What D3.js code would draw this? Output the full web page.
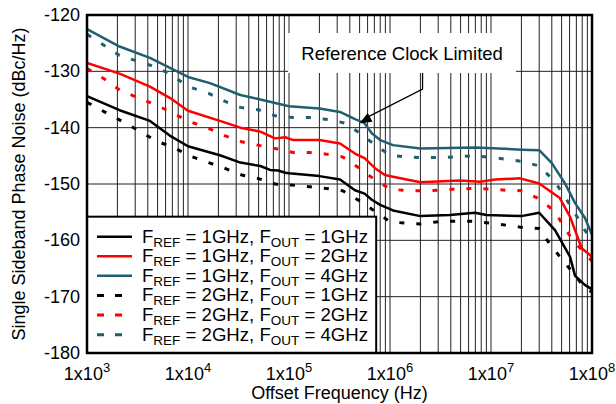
<!DOCTYPE html>
<html><head><meta charset="utf-8">
<script src="https://cdn.jsdelivr.net/npm/d3@7"></script>
<style>body{margin:0;background:#fff}svg{display:block}text{font-family:"Liberation Sans",Arial,sans-serif}</style>
</head><body><svg id="c" width="616" height="404"></svg>
<script>
// ---- data ----
const yTicks = [-120,-130,-140,-150,-160,-170,-180];
const xTickExps = [3,4,5,6,7,8];

const f1_1Freq = [1e3,2.1e3,4.2e3,6.6e3,1e4,2.07e4,3.3e4,5.2e4,6.5e4,7.8e4,9.2e4,1e5,2e5,3.2e5,4.5e5,5.6e5,6.6e5,8e5,1.07e6,2e6,3.9e6,6.95e6,9e6,2e7,3e7,4.3e7,6.05e7,6.8e7,8.5e7,1e8];
const f1_1Val  = [-134.4,-136.9,-138.8,-141.4,-143.3,-144.9,-146.2,-146.8,-147.5,-147.6,-148,-148.1,-148.6,-149.2,-151.1,-151.7,-152.8,-153.7,-154.7,-155.7,-155.5,-155.1,-155.5,-155.7,-155.1,-158.2,-162.9,-166.3,-167.9,-168.7];

const f1_2Freq = [1e3,2.1e3,4.2e3,6.6e3,1e4,2.07e4,3.3e4,5.2e4,7.26e4,9.2e4,1.1e5,2e5,3.2e5,4.5e5,5.6e5,7.1e5,8.9e5,1.07e6,2e6,4.9e6,7.8e6,1.1e7,1.94e7,3e7,4.8e7,6.05e7,6.8e7,7.9e7,1e8];
const f1_2Val  = [-128.5,-130.4,-132.7,-134.7,-137,-138.8,-140,-140.7,-141.9,-141.7,-142.2,-142.2,-142.8,-144.6,-145.4,-147.2,-148.4,-148.7,-149.7,-149.4,-149.6,-149.2,-149,-149.9,-152.5,-155.8,-158.2,-161.4,-162.9];

const f1_4Freq = [1e3,2.1e3,4.2e3,1e4,1.65e4,3.3e4,5.2e4,1e5,2e5,3.2e5,4.5e5,5.6e5,6.6e5,8e5,1.07e6,2e6,7e6,2e7,3e7,4e7,5.4e7,6.8e7,8.5e7,1e8];
const f1_4Val  = [-122.5,-125.6,-127.6,-131,-132.1,-134.2,-135,-136.2,-136.6,-137.2,-138.5,-139.2,-141,-142.2,-143.1,-143.7,-143.5,-143.9,-144,-146.3,-149.9,-153.4,-156,-159];

const f2_1Freq = [1e3,1.6e3,2.3e3,3.3e3,4.9e3,7.4e3,1e4,1.6e4,2.3e4,3.4e4,4.9e4,7.3e4,1.1e5,1.6e5,2.35e5,3.4e5,4.7e5,6.8e5,1e6,1.5e6,2e6,3e6,4.4e6,6.5e6,1.05e7,1.4e7,2e7,3e7,3.84e7,5.05e7,6.8e7,8.5e7,1e8];
const f2_1Val  = [-135.5,-137.5,-139,-140.6,-142.4,-143.6,-144.9,-146.2,-147.2,-148.4,-149,-150,-150.2,-150.5,-150.8,-151.2,-152.7,-154.6,-156.7,-157,-157.1,-156.7,-156.6,-156.6,-157,-157.3,-157.7,-157.9,-160.7,-163.4,-166.2,-168.5,-169.2];

const f2_2Freq = [1e3,1.5e3,2.1e3,3.3e3,4.9e3,7.4e3,1e4,1.58e4,2.3e4,3.4e4,4.9e4,7.3e4,1.1e5,1.6e5,2.35e5,3.4e5,4.7e5,6.8e5,1e6,1.5e6,2e6,3e6,4.4e6,6.5e6,1e7,1.4e7,2e7,3.05e7,4.3e7,5.4e7,6.8e7,8.5e7,1e8];
const f2_2Val  = [-129.5,-131.4,-133.3,-134.8,-136,-137.6,-138.8,-140.1,-141.4,-142.5,-143.1,-143.7,-144.4,-144.4,-144.7,-145.2,-146.9,-149,-150.9,-151.2,-151.2,-151.1,-150.9,-150.8,-150.9,-151.1,-151.2,-152.7,-154.9,-157.9,-160.5,-162.2,-163.7];

const f2_4Freq = [1e3,2.1e3,4.2e3,6.6e3,1e4,1.6e4,2.3e4,3.3e4,5.2e4,7.3e4,1.1e5,1.6e5,2.55e5,3.6e5,5.05e5,6.8e5,1e6,1.5e6,2e6,3.1e6,4.4e6,6.5e6,1.05e7,1.38e7,2.03e7,3e7,4.3e7,5.4e7,6.8e7,8.5e7,1e8];
const f2_4Val  = [-123.4,-127.2,-128.9,-130.4,-132.7,-133.9,-135.3,-136.4,-136.9,-137.9,-138.2,-138.2,-138.6,-139.2,-141,-142.8,-144.9,-145.2,-145.3,-145.3,-145.2,-145,-145.3,-145.6,-146,-146.8,-149.6,-152.3,-155.2,-158.2,-160];

const legendRef = ["1GHz","1GHz","1GHz","2GHz","2GHz","2GHz"];
const legendOut = ["1GHz","2GHz","4GHz","1GHz","2GHz","4GHz"];

const annotationText = "Reference Clock Limited";
const annotationPoint = [5e5, -139.2];

// ---- styles ----
const teal = "#1f5f6f";
const series = [
  {f:f1_1Freq, v:f1_1Val, color:"#000000", dash:null},
  {f:f1_2Freq, v:f1_2Val, color:"#ff0000", dash:null},
  {f:f1_4Freq, v:f1_4Val, color:teal, dash:null},
  {f:f2_1Freq, v:f2_1Val, color:"#000000", dash:"5,12"},
  {f:f2_2Freq, v:f2_2Val, color:"#ff0000", dash:"5,12"},
  {f:f2_4Freq, v:f2_4Val, color:teal, dash:"5,12"}
];

const svg = d3.select("#c");
const L = 87, R = 592, T = 15, B = 353;
const x = d3.scaleLog().domain([1e3,1e8]).range([L,R]);
const y = d3.scaleLinear().domain([-180,-120]).range([B,T]);
const FS = 18;

// grid
const minor = [];
for (let e=3;e<8;e++) for (let k=1;k<10;k++) minor.push(k*Math.pow(10,e));
minor.push(1e8);
svg.append("g").selectAll("line").data(minor).join("line")
  .attr("x1",d=>x(d)).attr("x2",d=>x(d)).attr("y1",T).attr("y2",B)
  .attr("stroke","#222").attr("stroke-width",1);
svg.append("g").selectAll("line").data(yTicks).join("line")
  .attr("x1",L).attr("x2",R).attr("y1",d=>y(d)).attr("y2",d=>y(d))
  .attr("stroke","#222").attr("stroke-width",1);

// annotation box
const bx0 = x(9.8e4), bx1 = x(1.77e7), by0 = y(-123.2), by1 = y(-130.3);
svg.append("rect").attr("x",bx0).attr("y",by0).attr("width",bx1-bx0).attr("height",by1-by0).attr("fill","#fff");

// curves
svg.append("defs").append("clipPath").attr("id","clip").append("rect")
  .attr("x",L).attr("y",T).attr("width",R-L).attr("height",B-T);
const line = d3.line().x(d=>x(d[0])).y(d=>y(d[1]));
const gC = svg.append("g").attr("clip-path","url(#clip)");
series.forEach(s=>{
  gC.append("path").attr("d", line(s.f.map((f,i)=>[f,s.v[i]])))
    .attr("fill","none").attr("stroke",s.color)
    .attr("stroke-width", s.dash?3:2.5)
    .attr("stroke-dasharray", s.dash)
    .attr("stroke-linejoin","round");
});

// annotation text and arrow
const ax = (bx0+bx1)/2;
svg.append("text").attr("x",ax).attr("y",by0+27).attr("text-anchor","middle")
  .attr("font-size",18.5).text(annotationText);
const tipX = x(annotationPoint[0]), tipY = y(annotationPoint[1]);
const armX = x(2.1e6);
const kx = armX, ky = by1+16;
svg.append("path").attr("d",`M${armX},${by1}L${kx},${ky}L${tipX+8},${tipY-6}`)
  .attr("fill","none").attr("stroke","#000").attr("stroke-width",1.3);
{
  const ang = Math.atan2(tipY-ky, tipX-kx);
  const len = 12, w = 5;
  const bxp = tipX - len*Math.cos(ang), byp = tipY - len*Math.sin(ang);
  const px = -Math.sin(ang)*w, py = Math.cos(ang)*w;
  svg.append("path").attr("d",`M${tipX},${tipY}L${bxp+px},${byp+py}L${bxp-px},${byp-py}Z`).attr("fill","#000");
}

// legend
const lgX0 = L, lgX1 = x(7.3e5), lgY0 = y(-155.8), lgY1 = B;
svg.append("rect").attr("x",lgX0).attr("y",lgY0).attr("width",lgX1-lgX0).attr("height",lgY1-lgY0)
  .attr("fill","#fff").attr("stroke","#000").attr("stroke-width",2);
series.forEach((s,i)=>{
  const cy = lgY0 + 20 + i*19.6;
  svg.append("line").attr("x1",lgX0+10).attr("x2",lgX0+45).attr("y1",cy).attr("y2",cy)
    .attr("stroke",s.color).attr("stroke-width",s.dash?3:2.5).attr("stroke-dasharray",s.dash?"7,11":null);
  const t = svg.append("text").attr("x",lgX0+55).attr("y",cy+6).attr("font-size",18.6);
  t.append("tspan").text("F");
  t.append("tspan").attr("font-size",13.5).attr("dy",4).text("REF");
  t.append("tspan").attr("dy",-4).text(" = "+legendRef[i]+", F");
  t.append("tspan").attr("font-size",13.5).attr("dy",4).text("OUT");
  t.append("tspan").attr("dy",-4).text(" = "+legendOut[i]);
});

// frame
svg.append("rect").attr("x",L).attr("y",T).attr("width",R-L).attr("height",B-T)
  .attr("fill","none").attr("stroke","#000").attr("stroke-width",2.5);

// y tick labels
svg.append("g").selectAll("text").data(yTicks).join("text")
  .attr("x",L-7).attr("y",d=>y(d)+6).attr("text-anchor","end").attr("font-size",FS)
  .text(d=>d);

// x tick labels
xTickExps.forEach(e=>{
  const t = svg.append("text").attr("x",x(Math.pow(10,e))).attr("y",380)
    .attr("text-anchor","middle").attr("font-size",FS);
  t.append("tspan").text("1x10");
  t.append("tspan").attr("font-size",13).attr("dy",-8).text(e);
});

// axis titles
svg.append("text").attr("x",(L+R)/2).attr("y",399).attr("text-anchor","middle")
  .attr("font-size",FS).text("Offset Frequency (Hz)");
svg.append("text").attr("transform",`translate(25,${(T+B)/2}) rotate(-90)`)
  .attr("text-anchor","middle").attr("font-size",FS).text("Single Sideband Phase Noise (dBc/Hz)");
</script></body></html>
